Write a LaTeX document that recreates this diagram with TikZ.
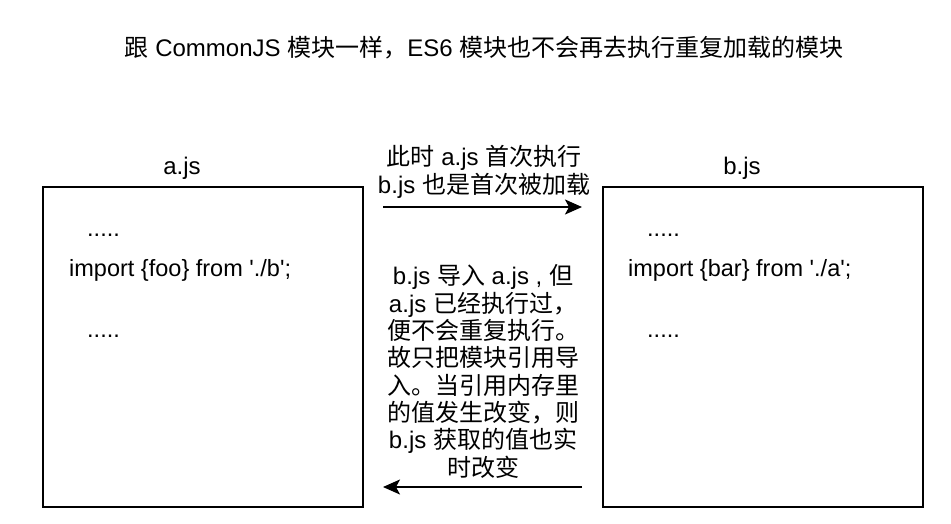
\documentclass[tikz,border=0pt]{standalone}
\usepackage{fontspec}
\setmainfont{Liberation Sans}
\newfontfamily\cjk{Noto Sans CJK SC}
\usetikzlibrary{arrows.meta}
\newcommand\zh[1]{{\cjk #1}}
\newcommand\sq{\textquotesingle}
\begin{document}
\begin{tikzpicture}[x=1pt,y=-1pt,
  txt/.style={font=\fontsize{24}{27.3}\selectfont, inner sep=0pt, align=center},
  code/.style={font=\fontsize{23.5}{28}\selectfont, inner sep=0pt, anchor=base west},
  jsbox/.style={draw, line width=1.8pt, minimum width=320pt, minimum height=320pt, inner sep=0pt},
  flow/.style={line width=1.8pt, -{Stealth[length=17pt,width=15pt,inset=4pt]}}]
\useasboundingbox (0,0) rectangle (951,523);
\fill[white] (0,0) rectangle (951,523);

% title
\node[txt] (title) at (484,48) {\zh{跟} CommonJS \zh{模块一样，}ES6 \zh{模块也不会再去执行重复加载的模块}};

% boxes
\node[jsbox] (boxA) at (203,347) {};
\node[jsbox] (boxB) at (763,347) {};
\node[txt] (labA) at (182,168) {a.js};
\node[txt] (labB) at (742,168) {b.js};

% code lines
\node[code] (a1) at (87,236) {.....};
\node[code] (a2) at (69,276) {import \{foo\} from \sq./b\sq;};
\node[code] (a3) at (87,337) {.....};
\node[code] (b1) at (647,236) {.....};
\node[code] (b2) at (628,276) {import \{bar\} from \sq./a\sq;};
\node[code] (b3) at (647,337) {.....};

% arrows
\coordinate (t1) at (383,207);
\coordinate (t2) at (582,207);
\coordinate (u1) at (582,487);
\coordinate (u2) at (383,487);
\draw[flow] (t1) -- (t2);
\draw[flow] (u1) -- (u2);

% labels
\node[txt] (topnote) at (484,172) {\zh{此时} a.js \zh{首次执行}\\b.js \zh{也是首次被加载}};
\node[txt] (midnote) at (483,371.5) {b.js \zh{导入} a.js , \zh{但}\\a.js \zh{已经执行过，}\\\zh{便不会重复执行。}\\\zh{故只把模块引用导}\\\zh{入。当引用内存里}\\\zh{的值发生改变，则}\\b.js \zh{获取的值也实}\\\zh{时改变}};
\end{tikzpicture}
\end{document}
